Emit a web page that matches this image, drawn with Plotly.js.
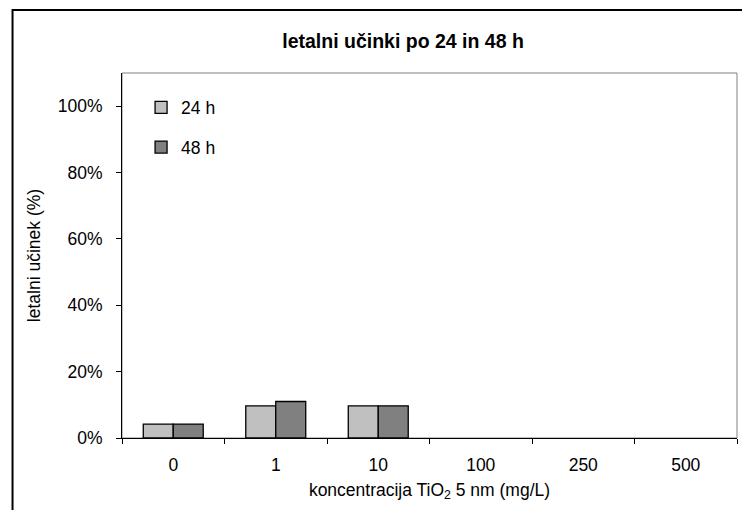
<!DOCTYPE html>
<html>
<head>
<meta charset="utf-8">
<script src="https://cdn.plot.ly/plotly-3.0.1.min.js"></script>
<style>
  html, body { margin: 0; padding: 0; background: #fff; }
  #chart { width: 742px; height: 510px; }
</style>
</head>
<body>
<div id="chart"></div>
<script>
// Concentrations of TiO2 (5 nm) in mg/L
const categories = ['0', '1', '10', '100', '250', '500'];
// Lethal effect (fraction of organisms) after 24 h and 48 h
const lethal24h = [0.042, 0.097, 0.097, 0, 0, 0];
const lethal48h = [0.042, 0.110, 0.097, 0, 0, 0];
const seriesNames = ['24 h', '48 h'];
const yTicks = [0, 0.2, 0.4, 0.6, 0.8, 1.0];
const yTickLabels = ['0%', '20%', '40%', '60%', '80%', '100%'];

const FONT = 'Liberation Sans, Arial, sans-serif';
const FS = 17.5;

// bars with zero height get no outline
const outlineWidths = vals => vals.map(v => (v > 0 ? 1.3 : 0));

const traces = [
  {
    type: 'bar', name: seriesNames[0], x: categories, y: lethal24h,
    marker: { color: '#C0C0C0', line: { color: '#000', width: outlineWidths(lethal24h) } },
    legendgroup: 'a', hoverinfo: 'x+y'
  },
  {
    type: 'bar', name: seriesNames[1], x: categories, y: lethal48h,
    marker: { color: '#808080', line: { color: '#000', width: outlineWidths(lethal48h) } },
    legendgroup: 'b', hoverinfo: 'x+y'
  }
];

const layout = {
  width: 742, height: 510,
  margin: { l: 122, r: 5, t: 73, b: 72, pad: 0 },
  paper_bgcolor: '#fff', plot_bgcolor: '#fff',
  font: { family: FONT, size: FS, color: '#000' },
  title: {
    text: '<b>letalni učinki po 24 in 48 h</b>',
    font: { family: FONT, size: 19.5, color: '#000' },
    x: 0.457, xref: 'paper', xanchor: 'center',
    y: 0.92, yref: 'container', yanchor: 'middle'
  },
  barmode: 'group',
  bargap: 0.415,
  bargroupgap: 0,
  showlegend: true,
  legend: {
    x: 0.031, y: 0.955, xanchor: 'left', yanchor: 'top',
    bgcolor: 'rgba(0,0,0,0)', borderwidth: 0,
    tracegroupgap: 14, itemwidth: 30,
    font: { family: FONT, size: FS, color: '#000' }
  },
  xaxis: {
    type: 'category',
    showline: true, linecolor: '#000', linewidth: 1,
    ticks: 'outside', tickson: 'boundaries', ticklen: 5, tickcolor: '#000',
    ticklabelstandoff: 11,
    showgrid: false, zeroline: false,
    tickfont: { family: FONT, size: FS, color: '#000' },
    title: {
      text: 'koncentracija TiO<sub>2</sub> 5 nm (mg/L)',
      font: { family: FONT, size: FS, color: '#000' },
      standoff: 9
    }
  },
  yaxis: {
    range: [0, 1.1],
    tickvals: yTicks, ticktext: yTickLabels,
    showline: true, linecolor: '#000', linewidth: 1,
    ticks: 'outside', ticklen: 5, tickcolor: '#000',
    ticklabelstandoff: 10,
    showgrid: false, zeroline: false,
    tickfont: { family: FONT, size: FS, color: '#000' },
    title: {
      text: 'letalni učinek (%)',
      font: { family: FONT, size: FS, color: '#000' },
      standoff: 12
    }
  },
  shapes: [
    // plot area frame (grey)
    { type: 'rect', xref: 'paper', yref: 'paper', x0: 0, x1: 1, y0: 0, y1: 1,
      line: { color: '#808080', width: 1 }, layer: 'below' },
    // outer chart frame
    { type: 'rect', xref: 'paper', yref: 'paper', x0: -0.178, x1: 1.3, y0: -0.4, y1: 1.1726,
      line: { color: '#000', width: 2 }, layer: 'below' }
  ]
};

Plotly.newPlot('chart', traces, layout, { displayModeBar: false, staticPlot: true });
</script>
</body>
</html>
